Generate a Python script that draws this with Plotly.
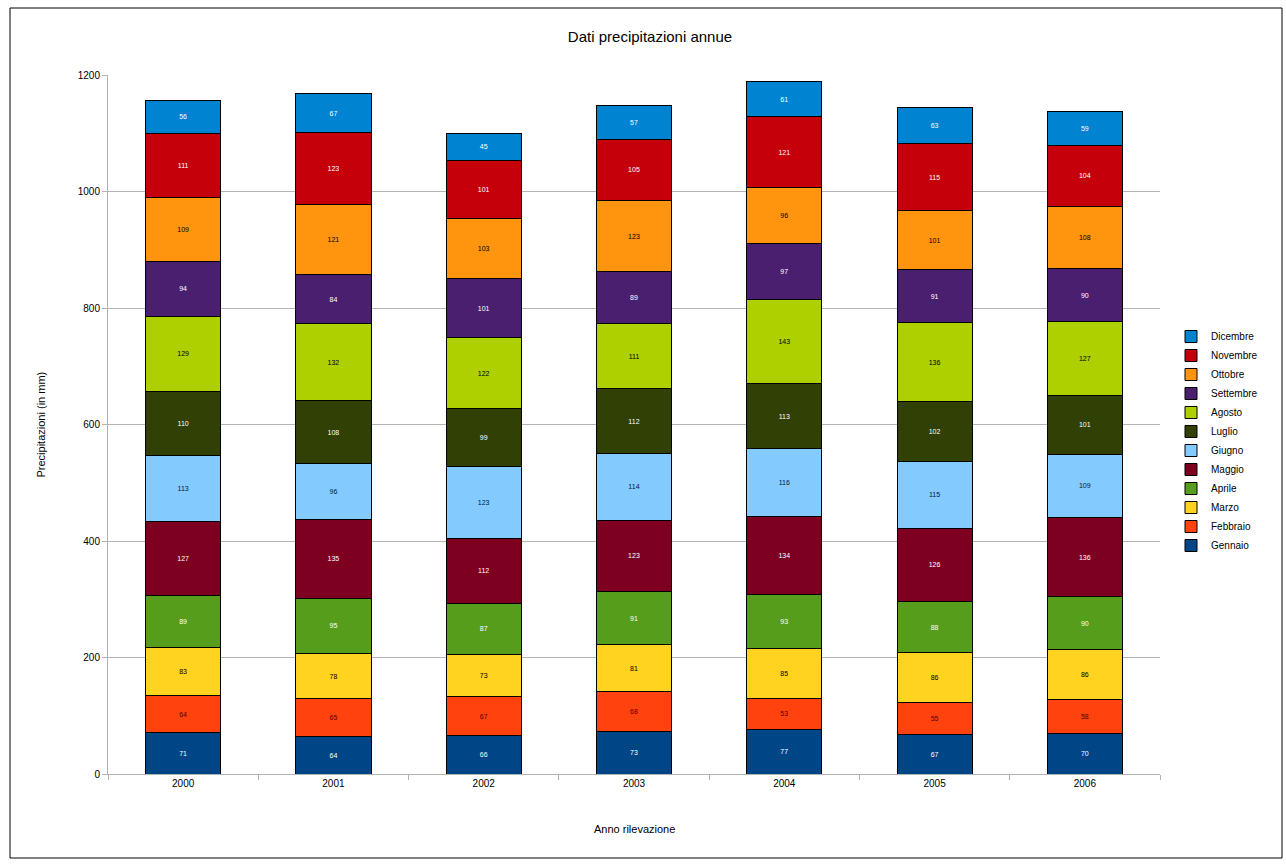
import plotly.graph_objects as go

anni = ["2000", "2001", "2002", "2003", "2004", "2005", "2006"]
mesi = ["Gennaio", "Febbraio", "Marzo", "Aprile", "Maggio", "Giugno",
        "Luglio", "Agosto", "Settembre", "Ottobre", "Novembre", "Dicembre"]

gennaio   = [71, 64, 66, 73, 77, 67, 70]
febbraio  = [64, 65, 67, 68, 53, 55, 58]
marzo     = [83, 78, 73, 81, 85, 86, 86]
aprile    = [89, 95, 87, 91, 93, 88, 90]
maggio    = [127, 135, 112, 123, 134, 126, 136]
giugno    = [113, 96, 123, 114, 116, 115, 109]
luglio    = [110, 108, 99, 112, 113, 102, 101]
agosto    = [129, 132, 122, 111, 143, 136, 127]
settembre = [94, 84, 101, 89, 97, 91, 90]
ottobre   = [109, 121, 103, 123, 96, 101, 108]
novembre  = [111, 123, 101, 105, 121, 115, 104]
dicembre  = [56, 67, 45, 57, 61, 63, 59]

valori = [gennaio, febbraio, marzo, aprile, maggio, giugno,
          luglio, agosto, settembre, ottobre, novembre, dicembre]

colori = ["#004586", "#ff420e", "#ffd320", "#579d1c", "#7e0021", "#83caff",
          "#314004", "#aecf00", "#4b1f6f", "#ff950e", "#c5000b", "#0084d1"]
colori_testo = ["#ffffff", "#5a0000", "#000000", "#ffffff", "#ffffff", "#001a40",
                "#ffffff", "#000000", "#ffffff", "#000000", "#ffffff", "#ffffff"]

fig = go.Figure()
for nome, vals, c, tc in zip(mesi, valori, colori, colori_testo):
    fig.add_trace(go.Bar(
        name=nome, x=anni, y=vals,
        marker=dict(color=c, line=dict(color="#000000", width=1)),
        text=[str(v) for v in vals], textposition="inside",
        insidetextanchor="middle", textangle=0, constraintext="none",
        textfont=dict(family="Liberation Sans, Arial, sans-serif", size=7, color=tc),
    ))

L, R, T, B = 108, 126, 75, 91
W, H = 1286, 865
pw, ph = W - L - R, H - T - B

fig.update_layout(
    width=W, height=H,
    margin=dict(l=L, r=R, t=T, b=B),
    barmode="stack", bargap=0.5,
    paper_bgcolor="white", plot_bgcolor="white",
    font=dict(family="Liberation Sans, Arial, sans-serif", size=10, color="#000000"),
    title=dict(text="Dati precipitazioni annue", x=(650) / W, xanchor="center",
               y=1 - 37 / H, yanchor="middle", yref="container",
               font=dict(size=15, color="#000000")),
    xaxis=dict(showline=True, linecolor="#b3b3b3", linewidth=1,
               ticks="outside", tickson="boundaries", ticklen=5, tickcolor="#b3b3b3",
               showgrid=False, tickfont=dict(size=10)),
    yaxis=dict(range=[0, 1200], dtick=200, showline=True, linecolor="#b3b3b3",
               linewidth=1, ticks="outside", ticklen=5, tickcolor="#b3b3b3",
               showgrid=True, gridcolor="#b3b3b3", gridwidth=1, zeroline=False,
               tickfont=dict(size=10)),
    legend=dict(x=(1171 - L) / pw, xanchor="left", y=(774 - 441) / ph, yanchor="middle",
                traceorder="reversed", font=dict(size=10), itemwidth=30,
                bgcolor="rgba(0,0,0,0)", tracegroupgap=0),
    annotations=[
        dict(text="Precipitazioni (in mm)", xref="paper", yref="paper",
             x=(40 - L) / pw, y=0.5, textangle=-90, showarrow=False,
             xanchor="center", yanchor="middle", font=dict(size=11)),
        dict(text="Anno rilevazione", xref="paper", yref="paper",
             x=0.5, y=-(829 - 774) / ph, showarrow=False,
             xanchor="center", yanchor="middle", font=dict(size=11)),
    ],
    shapes=[
        dict(type="rect", xref="paper", yref="paper",
             x0=(10 - L) / pw, x1=(1282 - L) / pw,
             y0=-(858 - 774) / ph, y1=1 + (T - 8) / ph,
             line=dict(color="#000000", width=1), fillcolor="rgba(0,0,0,0)", layer="below"),
    ],
)

fig.write_html("out.html")
